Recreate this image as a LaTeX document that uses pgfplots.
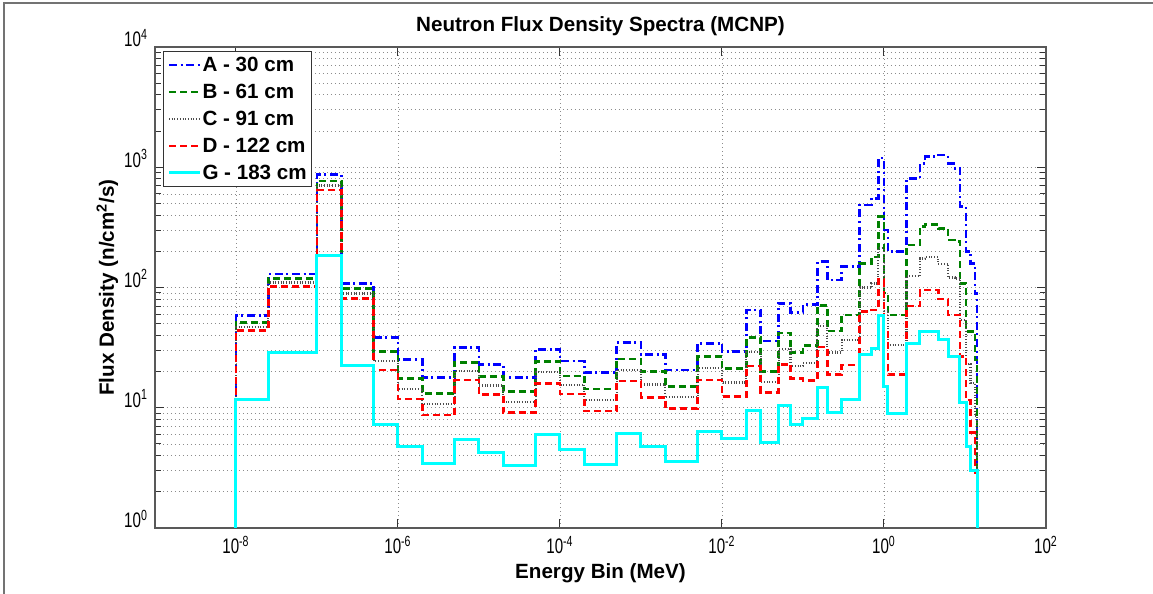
\documentclass[border=0pt]{standalone}
\usepackage{pgfplots}
\usepackage{pgfplotstable}
\pgfplotsset{compat=1.18}
\usepackage{fontspec}
\setmainfont{Liberation Sans}
\newfontfamily\tickfont[FakeStretch=0.72]{Liberation Sans}
\definecolor{mgreen}{rgb}{0,0.5,0}
\definecolor{mcyan}{rgb}{0,1,1}

\pgfplotstableread{
E      A     B     C     D     G
1e-8   0.1   0.1   0.1   0.1   0.1
1e-8   58.7  51    47    44    11.8
2.5e-8 129   119   110   101.6 29
1e-7   867   769   705   646   183
2e-7   108   98    89    81    22.4
5e-7   38.3  29.3  24.5  20.6  7.3
1e-6   25.3  17.6  14.4  11.8  4.8
2e-6   17.9  13.2  10.7  8.7   3.45
5e-6   31.8  23.9  20.1  17    5.4
1e-5   23    18.1  15.3  12.9  4.26
2e-5   17.9  13.6  11.1  9.1   3.34
5e-5   30.6  24.2  19.7  16    6.0
1e-4   24.5  18.4  15.5  13    4.5
2e-4   19.6  14.3  11.6  9.4   3.4
5e-4   34.8  25.4  20.6  16.7  6.1
1e-3   27.8  20    15.6  12.2  4.8
2e-3   20.6  15    12.2  9.9   3.6
5e-3   34.4  26.6  21.3  17    6.4
1e-2   29.5  21.2  16.2  12.4  5.6
2e-2   65    38.4  29.3  22.3  9.4
3e-2   36    20    16.4  13.4  5.15
5e-2   74    41.7  31    23    10.4
7e-2   62    28.8  22.4  17.5  7.3
0.1    72    33    23.5  16.8  8.1
0.15   164   70.5  47.5  32    14.8
0.2    115   43.6  28.8  19    9.1
0.3    149   59    36.6  22.7  11.6
0.5    486   159   100   63    27.5
0.7    552   180   108   65    31
0.85   1190  389   212   116   59
1.0    300   90    64    45    15
1.12   205   59    33    18.8  9
1.2    199   59    33    18.8  9
1.9    809   225   125   70    34.4
2.78   1079  320   174   95    43
3.2    1224  335   178   95    43
4.68   1260  310   157   80    36.6
6.2    1079  248   121   59    26.6
7.5    980   241   119   59    26.6
8.67   470   108   54    26.6  11
10.3   200   43    23    11.6  4.75
11.7   159   43    16    6.2   3.0
13.3   89    25    8.5   2.9   3.0
14.1   0.1   0.1   0.1   0.1   0.1
}\fluxdata

\begin{document}
\begin{tikzpicture}
\path[use as bounding box] (-77.5pt,-33pt) rectangle (499pt,264pt);
\draw[black!55, line width=1pt] (-75.5pt,-33pt) -- (-75.5pt,262.5pt) -- (499pt,262.5pt);
\begin{axis}[
  at={(0,0)}, anchor=south west,
  scale only axis,
  width=445.5pt, height=240.5pt,
  xmode=log, ymode=log,
  xmin=1e-9, xmax=1e2, ymin=1, ymax=1e4,
  xtick={1e-8,1e-6,1e-4,1e-2,1,1e2},
  xticklabels={10\textsuperscript{-8},10\textsuperscript{-6},10\textsuperscript{-4},10\textsuperscript{-2},10\textsuperscript{0},10\textsuperscript{2}},
  ytick={1,10,100,1000,10000},
  yticklabels={10\textsuperscript{0},10\textsuperscript{1},10\textsuperscript{2},10\textsuperscript{3},10\textsuperscript{4}},
  xminorticks=false,
  xmajorgrids, ymajorgrids, yminorgrids,
  major grid style={black!45, line width=0.4pt, dash pattern=on 0.5pt off 1.5pt},
  minor grid style={black!45, line width=0.4pt, dash pattern=on 0.5pt off 1.5pt},
  axis line style={black!65, line width=0.6pt},
  tick style={black!80, line width=0.5pt},
  tick align=inside,
  major tick length=4.5pt, minor tick length=3pt,
  ticklabel style={font=\tickfont\fontsize{10.5}{12}\selectfont},
  xticklabel style={anchor=base, yshift=-13pt},
  yticklabel style={anchor=base east},
  every axis title shift=0pt,
  title={Neutron Flux Density Spectra (MCNP)},
  title style={at={(0.5,1.0312)}, anchor=base, font=\bfseries\fontsize{10.3}{12}\selectfont},
  xlabel={Energy Bin (MeV)},
  xlabel style={at={(0.5,-0.104)}, anchor=base, font=\bfseries\fontsize{10.3}{12}\selectfont},
  ylabel={Flux Density (n/cm\textsuperscript{2}/s)},
  ylabel style={at={(-0.046,0.5)}, anchor=base, font=\bfseries\fontsize{10.3}{12}\selectfont},
  legend cell align=left,
  legend style={at={(0.009,0.9917)}, anchor=north west, draw=black!80, line width=0.5pt, fill=white,
    font=\bfseries\fontsize{10.3}{12}\selectfont, inner xsep=2pt, inner ysep=0pt,
    nodes={inner xsep=0.5pt, inner ysep=0pt, text height=10pt, text depth=3.5pt}},
  legend image code/.code={\draw[#1] (0pt,0pt) -- (15.5pt,0pt);},
  const plot mark left,
]
\addplot[color=blue, line width=1.3pt, dash pattern=on 4pt off 1.8pt on 1pt off 1.8pt] table[x=E,y=A] {\fluxdata};
\addlegendentry{A - 30 cm}
\addplot[color=mgreen, line width=1.3pt, dash pattern=on 3.5pt off 2pt] table[x=E,y=B] {\fluxdata};
\addlegendentry{B - 61 cm}
\addplot[color=black!70, line width=1.1pt, dash pattern=on 0.45pt off 0.9pt] table[x=E,y=C] {\fluxdata};
\addlegendentry{C - 91 cm}
\addplot[color=red, line width=1.3pt, dash pattern=on 3.5pt off 2pt] table[x=E,y=D] {\fluxdata};
\addlegendentry{D - 122 cm}
\addplot[color=mcyan, line width=1.5pt] table[x=E,y=G] {\fluxdata};
\addlegendentry{G - 183 cm}
\end{axis}
\end{tikzpicture}
\end{document}
